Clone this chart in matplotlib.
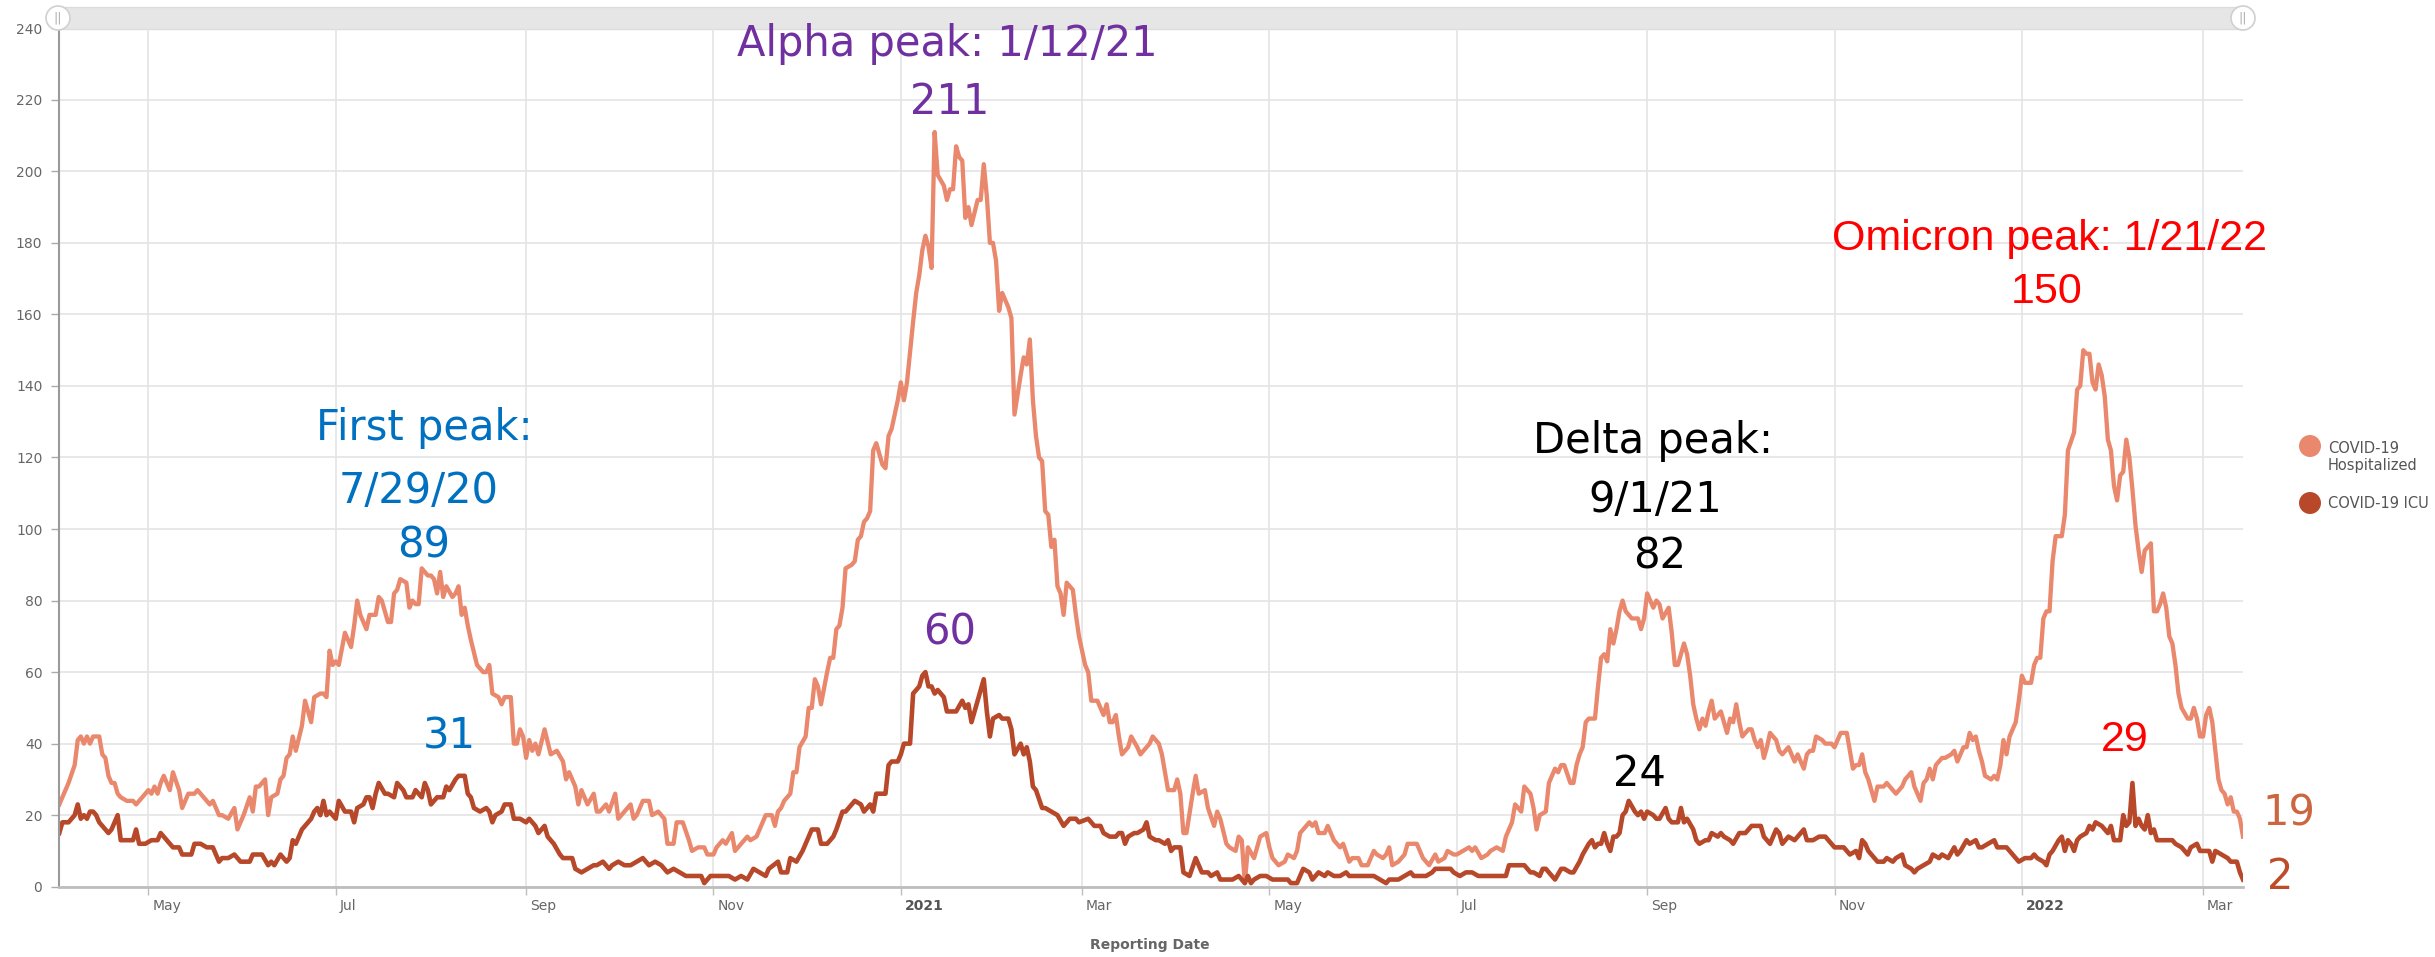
import pandas as pd  # datas
import numpy as np
import matplotlib
matplotlib.use("Agg")
import matplotlib.pyplot as plt
from matplotlib.patches import Rectangle, Ellipse
from matplotlib.transforms import ScaledTranslation

# Dados: dia (contado a partir de 1/4/2020) e número de pacientes
start = pd.Timestamp("2020-04-01")

hosp_day = [1, 3, 4, 6, 7, 8, 9, 10, 11, 12,
            14, 15, 16, 17, 18, 19, 20, 21, 23, 25,
            26, 28, 30, 31, 32, 33, 34, 35, 36, 37,
            38, 40, 41, 43, 45, 46, 48, 50, 51, 53,
            54, 56, 58, 59, 61, 63, 64, 65, 66, 68,
            69, 70, 72, 73, 74, 75, 76, 77, 78, 80,
            81, 83, 84, 86, 87, 88, 89, 90, 91, 92,
            94, 95, 96, 97, 98, 99, 101, 102, 104, 105,
            106, 108, 109, 110, 111, 112, 114, 115, 116, 117,
            118, 119, 121, 122, 123, 124, 125, 126, 127, 129,
            130, 131, 132, 133, 134, 135, 137, 139, 140, 141,
            142, 144, 145, 146,
            148, 149, 150, 151, 152, 153, 154, 155, 156, 157,
            159, 161, 163, 165, 166, 167, 169, 170, 171, 173,
            175, 176, 177, 179, 180, 182, 183, 185, 187, 188,
            189, 191, 193, 194, 196, 198, 199, 201, 202, 204,
            206, 207, 209, 211, 212, 214, 215, 217, 218, 220,
            221, 223, 225, 226, 228, 230, 231, 233, 234, 235,
            236, 237, 239, 240, 241, 242, 244, 245, 246, 247,
            248, 249, 251, 252, 253, 254, 255, 256, 257, 259,
            260, 261, 262, 263, 264, 265, 266, 267, 269, 270,
            271, 272, 274, 275, 276, 277, 279, 280, 281, 282,
            283, 284, 285, 286, 287, 289, 290, 291, 292, 293,
            294, 295, 296, 297, 298, 300, 301, 302, 303, 304,
            305, 306, 307, 308, 310, 311, 312, 314, 315, 316,
            317, 318, 319, 320, 321, 322, 323, 324, 325, 326,
            327, 328, 329, 331, 332, 333, 335, 336, 337,
            339, 340, 341, 342, 343, 344, 345, 346, 347, 349,
            350, 352, 353, 355, 356, 357, 359, 360, 362, 364,
            365, 366, 367, 368, 370, 371, 372, 374, 375, 377,
            378, 379, 381, 382, 384, 385, 386, 387, 388, 390,
            391, 392, 394, 395, 396, 398, 400, 401, 403, 404,
            405, 407, 408, 409, 410, 411, 413, 414, 416, 418,
            419, 421, 422, 424, 425, 427, 429, 430, 432, 433,
            434, 435, 437, 439, 440, 442, 443, 445, 446, 447,
            449, 450, 452, 453, 455, 456, 458, 460, 461, 462,
            464, 466, 467, 469, 471, 472, 474, 475, 477, 478,
            480, 481, 482, 483, 485, 486,
            488, 489, 490, 491, 493, 494, 495, 496, 497, 498,
            499, 501, 502, 503, 504, 505, 506, 507, 508, 509,
            510, 511, 513, 514, 515, 516, 517, 518, 520, 521,
            522, 523, 525, 526, 527, 528, 529, 530, 531, 532,
            533, 534, 535, 536, 537, 538, 539, 540, 542, 543,
            544, 545, 546, 547, 548, 549, 550, 551, 552, 553,
            554, 555, 556, 557, 558, 560, 561, 562, 564, 565,
            566, 567, 569, 570, 571, 572, 573, 575, 576, 578,
            579, 580, 581, 583, 584, 585, 586, 587, 588, 589,
            590, 591, 592, 593, 595, 596, 598, 599, 601, 602,
            604, 605, 607, 608, 609, 610, 611, 612, 614, 615,
            617, 618, 619,
            621, 622, 623, 624, 625, 626, 627, 628, 630, 631,
            632, 633, 634, 635, 636, 638, 639, 640, 641, 643,
            644, 645, 646, 647, 648, 649, 650, 651, 653, 654,
            655, 657, 658, 659, 660, 661, 662, 663, 664, 665,
            666, 667, 668, 669, 670, 671, 672, 673, 674, 675,
            676, 677, 678, 679, 680, 682, 683, 684, 685, 686,
            687, 688, 689, 690, 691, 692, 694, 695, 696, 697,
            698, 699, 700, 701, 702, 703, 704, 705, 706, 707,
            708, 709, 710, 711, 712]

hosp_val = [23, 27, 29, 34, 41, 42, 40, 42, 40, 42,
            42, 37, 36, 31, 29, 29, 26, 25, 24, 24,
            23, 25, 27, 26, 28, 26, 29, 31, 29, 27,
            32, 27, 22, 26, 26, 27, 25, 23, 24, 20,
            20, 19, 22, 16, 20, 25, 21, 28, 28, 30,
            20, 25, 26, 30, 31, 36, 37, 42, 38, 45,
            52, 46, 53, 54, 54, 53, 66, 62, 63, 62,
            71, 69, 67, 73, 80, 76, 72, 76, 76, 81,
            80, 74, 74, 82, 83, 86, 85, 78, 80, 79,
            79, 89, 87, 87, 86, 82, 88, 81, 84, 81,
            82, 84, 76, 78, 73, 69, 62, 60, 60, 62,
            54, 53, 51, 53,
            53, 40, 40, 44, 42, 36, 41, 38, 40, 37,
            44, 37, 38, 35, 30, 32, 28, 23, 27, 23,
            26, 21, 21, 23, 21, 26, 19, 21, 23, 19,
            20, 24, 24, 20, 21, 19, 12, 12, 18, 18,
            13, 10, 11, 11, 9, 9, 11, 13, 12, 15,
            10, 12, 14, 13, 14, 18, 20, 20, 17, 21,
            22, 24, 26, 32, 32, 39, 42, 50, 50, 58,
            56, 51, 60, 64, 64, 72, 73, 78, 89, 90,
            91, 97, 98, 102, 103, 105, 122, 124, 118, 117,
            126, 128, 136, 141, 136, 141, 158, 166, 171, 178,
            182, 179, 173, 211, 199, 196, 192, 195, 195, 207,
            204, 203, 187, 190, 185, 192, 192, 202, 193, 180,
            180, 175, 161, 166, 162, 159, 132, 143, 148, 146,
            153, 136, 126, 120, 119, 105, 104, 95, 97, 84,
            82, 76, 85, 83, 76, 70, 62, 60, 52,
            52, 50, 48, 51, 46, 46, 48, 42, 37, 39,
            42, 39, 37, 39, 40, 42, 40, 37, 27, 27,
            30, 26, 15, 15, 26, 31, 26, 27, 22, 17,
            21, 19, 12, 11, 10, 14, 13, 1, 11, 8,
            11, 14, 15, 11, 8, 6, 7, 9, 8, 10,
            15, 17, 18, 17, 18, 15, 15, 17, 13, 11,
            12, 7, 8, 8, 6, 6, 10, 9, 8, 9,
            11, 6, 7, 9, 12, 12, 12, 8, 7, 6,
            9, 7, 8, 10, 9, 9, 10, 11, 10, 11,
            8, 9, 10, 11, 10, 14, 18, 23, 21, 28,
            26, 22, 16, 20, 21, 29,
            33, 32, 34, 34, 29, 29, 34, 37, 39, 46,
            47, 47, 56, 64, 65, 63, 72, 68, 72, 77,
            80, 77, 75, 75, 75, 72, 75, 82, 78, 80,
            79, 75, 78, 71, 62, 62, 65, 68, 65, 59,
            51, 47, 44, 47, 45, 49, 52, 47, 49, 46,
            43, 47, 46, 51, 46, 42, 43, 44, 44, 41,
            39, 41, 36, 39, 43, 41, 38, 37, 39, 37,
            35, 37, 33, 37, 38, 38, 42, 41, 40, 40,
            39, 41, 43, 43, 38, 33, 34, 34, 37, 32,
            30, 27, 24, 28, 28, 29, 27, 26, 28, 30,
            32, 28, 24, 29, 30, 33, 30, 34, 36, 36,
            37, 38, 35,
            39, 39, 43, 41, 42, 38, 35, 31, 30, 31,
            30, 34, 41, 37, 42, 46, 52, 59, 57, 57,
            62, 64, 64, 75, 77, 77, 91, 98, 98, 104,
            122, 127, 139, 140, 150, 149, 149, 141, 139, 146,
            143, 137, 125, 122, 112, 108, 115, 116, 125, 120,
            111, 101, 94, 88, 94, 96, 77, 77, 79, 82,
            78, 70, 68, 62, 54, 50, 47, 47, 50, 47,
            42, 42, 48, 50, 46, 38, 30, 27, 26, 23,
            25, 21, 21, 19, 14]

icu_day = [1, 2, 4, 6, 7, 8, 9, 10, 11, 12,
           13, 14, 16, 17, 18, 20, 21, 22, 25, 26,
           27, 29, 31, 33, 34, 36, 38, 40, 41, 44,
           45, 47, 49, 51, 53, 54, 56, 58, 60, 63,
           64, 67, 69, 70, 71, 73, 75, 76, 77, 78,
           80, 81, 83, 84, 85, 86, 87, 88, 89, 91,
           92, 94, 96, 97, 98, 100, 101, 102, 103, 104,
           105, 107, 108, 110, 111, 113, 114, 116, 117, 119,
           120, 121, 122, 124, 126, 127, 128, 130, 131, 133,
           134, 135, 136, 138, 140, 141, 142, 143, 145, 146,
           147, 148, 149, 151, 153, 154, 156, 157, 159, 160,
           162, 164, 165, 168, 169, 171, 173, 175, 176, 178,
           180, 181, 183, 185, 187, 189, 191, 193, 195, 197,
           199, 201, 203, 205, 208, 210, 211, 213, 215, 218,
           219, 221, 223, 225, 227, 229, 231, 232, 235, 236,
           238, 239, 241, 243, 245, 246, 248, 249, 251, 253,
           254, 256, 257, 259, 260, 262, 263, 265, 266, 267,
           269, 270, 271, 272, 274, 275, 276, 278, 279, 281,
           282, 283, 284, 285, 286, 287, 289, 290, 292, 293,
           295, 296, 297, 298, 299, 300, 302, 303, 304, 305,
           307, 308, 310, 311, 312, 314, 315, 316, 317, 318,
           319, 321, 322, 324, 326, 328, 330, 332, 333, 336,
           338,
           340, 341, 343, 345, 346, 347, 348, 349, 351, 352,
           354, 355, 356, 358, 359, 361, 362, 363, 364, 366,
           367, 369, 371, 372, 373, 375, 376, 378, 379, 381,
           383, 385, 387, 388, 389, 390, 392, 394, 396, 398,
           401, 402, 404, 406, 408, 409, 411, 413, 414, 416,
           418, 420, 421, 423, 426, 429, 431, 433, 434, 437,
           439, 441, 442, 446, 448, 449, 452, 454, 455, 457,
           459, 461, 463, 466, 468, 472, 473, 475, 477, 478,
           480, 481, 483, 484, 485, 486,
           488, 490, 491, 493, 494, 496, 497, 499, 500, 501,
           502, 503, 504, 505, 506, 507, 508, 509, 510, 511,
           512, 514, 515, 516, 517, 518, 520, 521, 522, 524,
           525, 526, 528, 529, 530, 531, 533, 534, 535, 537,
           538, 539, 541, 542, 543, 545, 546, 548, 550, 552,
           553, 555, 556, 558, 560, 561, 562, 564, 566, 567,
           569, 570, 572, 574, 576, 577, 579, 581, 582, 584,
           586, 587, 588, 589, 590, 592, 593, 595, 596, 598,
           599, 601, 602, 604, 605, 606, 608, 610, 611, 613,
           614, 616, 618, 619,
           620, 622, 623, 625, 626, 627, 629, 631, 632, 635,
           636, 638, 639, 641, 643, 644, 645, 647, 648, 649,
           650, 652, 653, 654, 655, 656, 657, 658, 659, 661,
           662, 663, 664, 666, 667, 668, 669, 670, 671, 672,
           673, 674, 675, 676, 677, 678, 679, 680, 681, 682,
           683, 684, 686, 687, 689, 690, 692, 694, 695, 697,
           698, 700, 701, 702, 703, 705, 707, 708, 710, 711,
           712]

icu_val = [15, 18, 18, 20, 23, 19, 20, 19, 21, 21,
           20, 18, 16, 15, 16, 20, 13, 13, 13, 16,
           12, 12, 13, 13, 15, 13, 11, 11, 9, 9,
           12, 12, 11, 11, 7, 8, 8, 9, 7, 7,
           9, 9, 6, 7, 6, 9, 7, 8, 13, 12,
           16, 17, 19, 21, 22, 20, 24, 20, 21, 19,
           24, 21, 21, 18, 22, 23, 25, 25, 22, 26,
           29, 26, 26, 25, 29, 27, 25, 25, 27, 25,
           29, 27, 23, 25, 25, 28, 27, 30, 31, 31,
           26, 25, 22, 21, 22, 21, 18, 20, 21, 23,
           23, 23, 19, 19, 18, 19, 17, 15, 17, 14,
           12, 9, 8, 8, 5, 4, 5, 6, 6, 7,
           5, 6, 7, 6, 6, 7, 8, 6, 7, 6,
           4, 5, 4, 3, 3, 3, 1, 3, 3, 3,
           3, 2, 3, 2, 5, 4, 3, 5, 7, 4,
           4, 8, 7, 10, 14, 16, 16, 12, 12, 14,
           16, 21, 21, 23, 24, 23, 21, 23, 21, 26,
           26, 26, 34, 35, 35, 37, 40, 40, 54, 56,
           59, 60, 56, 56, 54, 55, 53, 49, 49, 49,
           52, 50, 51, 46, 49, 52, 58, 49, 42, 47,
           48, 47, 47, 44, 37, 40, 37, 39, 35, 28,
           27, 22, 22, 21, 20, 17, 19, 19, 18, 19,
           17,
           17, 15, 14, 14, 15, 15, 12, 14, 15, 15,
           16, 18, 14, 13, 13, 12, 13, 10, 11, 11,
           4, 3, 8, 6, 4, 4, 3, 4, 2, 2,
           2, 3, 1, 3, 1, 2, 3, 3, 2, 2,
           2, 1, 1, 5, 4, 2, 4, 3, 4, 3,
           3, 4, 3, 3, 3, 3, 2, 1, 2, 2,
           3, 4, 3, 3, 4, 5, 5, 5, 4, 3,
           4, 4, 3, 3, 3, 3, 6, 6, 6, 6,
           4, 4, 3, 5, 5, 4,
           2, 5, 5, 4, 4, 7, 9, 12, 13, 11,
           12, 12, 15, 12, 10, 14, 14, 15, 20, 21,
           24, 21, 20, 21, 19, 21, 20, 19, 19, 22,
           19, 18, 18, 22, 18, 19, 16, 13, 12, 13,
           13, 15, 14, 15, 14, 13, 12, 15, 15, 17,
           17, 17, 14, 12, 16, 15, 12, 14, 13, 14,
           16, 13, 13, 14, 14, 13, 11, 11, 11, 9,
           10, 8, 13, 12, 10, 8, 7, 7, 8, 7,
           8, 9, 6, 5, 4, 5, 6, 7, 9, 8,
           9, 8, 11, 9,
           10, 13, 12, 13, 11, 11, 12, 13, 11, 11,
           10, 8, 7, 8, 8, 9, 8, 7, 6, 9,
           10, 13, 14, 10, 13, 12, 10, 13, 14, 15,
           17, 16, 18, 17, 16, 15, 17, 13, 13, 13,
           20, 17, 18, 29, 17, 19, 17, 16, 20, 15,
           16, 13, 13, 13, 13, 12, 11, 9, 11, 12,
           10, 10, 10, 7, 10, 9, 8, 7, 7, 4,
           2]

tick_dates = ["2020-05-01", "2020-07-01", "2020-09-01", "2020-11-01",
              "2021-01-01", "2021-03-01", "2021-05-01", "2021-07-01",
              "2021-09-01", "2021-11-01", "2022-01-01", "2022-03-01"]
tick_labels = ["May", "Jul", "Sep", "Nov", "2021", "Mar",
               "May", "Jul", "Sep", "Nov", "2022", "Mar"]

assert len(hosp_day) == len(hosp_val)
assert len(icu_day) == len(icu_val)

HOSP = "#E9886C"
ICU = "#B8482A"
W, H = 2435, 957


def day(d):
    return start + pd.Timedelta(days=d)


fig = plt.figure(figsize=(W / 100, H / 100), dpi=100)
ax = fig.add_axes([59 / W, 1 - 886.7 / H, (2243 - 59) / W, (886.7 - 28.3) / H])
ax.patch.set_visible(False)

ax.plot(start + pd.to_timedelta(hosp_day, unit="D"), hosp_val, color=HOSP, lw=3.1,
        solid_joinstyle="round")
ax.plot(start + pd.to_timedelta(icu_day, unit="D"), icu_val, color=ICU, lw=3.3,
        solid_joinstyle="round")

ax.set_xlim(day(0.9), day(712))
ax.set_ylim(0, 240)
ax.set_yticks(range(0, 241, 20))
ax.set_xticks(pd.to_datetime(tick_dates))
ax.set_xticklabels(tick_labels)

ax.grid(True, color="#e4e4e4", lw=1.2)
ax.set_axisbelow(True)
for s in ["top", "right"]:
    ax.spines[s].set_visible(False)
ax.spines["left"].set_color("#9a9a9a")
ax.spines["left"].set_linewidth(1.5)
ax.spines["bottom"].set_color("#bdbdbd")
ax.spines["bottom"].set_linewidth(2)
ax.tick_params(axis="y", length=6, width=1, color="#aaaaaa", pad=6,
               labelsize=10, labelcolor="#666666")
ax.tick_params(axis="x", length=6, width=1, color="#bdbdbd", pad=3,
               labelsize=10, labelcolor="#666666")

# rótulos do eixo x começam à direita do tick
offset = ScaledTranslation(4 / 100, 0, fig.dpi_scale_trans)
for lab in ax.get_xticklabels():
    lab.set_horizontalalignment("left")
    lab.set_transform(lab.get_transform() + offset)
    if lab.get_text() in ("2021", "2022"):
        lab.set_fontweight("bold")
        lab.set_color("#555555")

fig.text(1150 / W, 1 - 945 / H, "Reporting Date", ha="center", va="center",
         fontsize=10, fontweight="bold", color="#666666")

# barra de rolagem no topo (atrás do texto)
fig.add_artist(Rectangle((59 / W, 1 - 29 / H), (2243 - 59) / W, 22 / H,
                         transform=fig.transFigure, facecolor="#e6e6e6",
                         edgecolor="#dcdcdc", lw=1, zorder=-1))
for hx in (58, 2243):
    fig.add_artist(Ellipse((hx / W, 1 - 18 / H), 24 / W, 24 / H,
                           transform=fig.transFigure, facecolor="white",
                           edgecolor="#d0d0d0", lw=1.2, zorder=5))
    fig.text(hx / W, 1 - 18 / H, "||", ha="center", va="center", fontsize=9,
             color="#aaaaaa", zorder=6)

# legenda
fig.add_artist(Ellipse((2310 / W, 1 - 446 / H), 22 / W, 22 / H,
                       transform=fig.transFigure, facecolor=HOSP, edgecolor="none"))
fig.add_artist(Ellipse((2310 / W, 1 - 503 / H), 22 / W, 22 / H,
                       transform=fig.transFigure, facecolor=ICU, edgecolor="none"))
fig.text(2328 / W, 1 - 457 / H, "COVID-19\nHospitalized", ha="left", va="center",
         fontsize=10.5, color="#555555", linespacing=1.2)
fig.text(2328 / W, 1 - 504 / H, "COVID-19 ICU", ha="left", va="center",
         fontsize=10.5, color="#555555")

# anotações dos picos
big = dict(ha="center", va="center", fontsize=30, family="DejaVu Sans", zorder=10)
ax.text(day(119.7), 128.3, "First peak:", color="#0070C0", **big)
ax.text(day(118), 110.5, "7/29/20", color="#0070C0", **big)
ax.text(day(119.7), 95.5, "89", color="#0070C0", **big)
ax.text(day(128), 42, "31", color="#0070C0", **big)

ax.text(day(290), 235.6, "Alpha peak: 1/12/21", color="#7030A0", clip_on=False, **big)
ax.text(day(291), 219.3, "211", color="#7030A0", **big)
ax.text(day(291), 71, "60", color="#7030A0", **big)

ax.text(day(520), 124.7, "Delta peak:", color="black", **big)
ax.text(day(520.6), 108, "9/1/21", color="black", **big)
ax.text(day(522), 92.3, "82", color="black", **big)
ax.text(day(515.6), 31.6, "24", color="black", **big)

om = dict(ha="center", va="center", fontsize=31, family="Liberation Sans",
          color="#FF0000", zorder=10)
ax.text(day(649), 181.2, "Omicron peak: 1/21/22", **om)
ax.text(day(648), 166.2, "150", **om)
ax.text(day(673.6), 41, "29", **om)

ax.text(day(727), 20.6, "19", color="#CC6640", **big)
ax.text(day(724), 2.7, "2", color="#BE4B2A", **big)

fig.savefig("out.png", dpi=100)
